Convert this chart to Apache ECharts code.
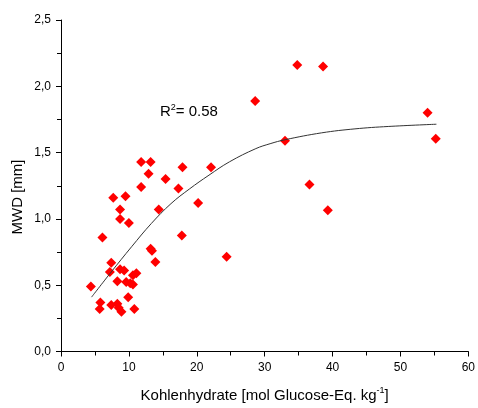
<!DOCTYPE html>
<html>
<head>
<meta charset="utf-8">
<script src="https://cdn.jsdelivr.net/npm/echarts@6/dist/echarts.min.js"></script>
<style>
html,body{margin:0;padding:0;background:#fff;}
#c{width:478px;height:408px;}
</style>
</head>
<body>
<div id="c"></div>
<script>
var carbX = [4.4, 5.8, 5.7, 6.1, 7.4, 7.2, 7.4, 8.3, 8.5, 8.9, 8.3, 8.7, 9.3, 9.6, 10.2, 10.6, 9.9, 10.8, 10.6, 11.1,
             8.7, 8.7, 10.0, 7.7, 9.5, 11.8, 13.2, 12.9, 11.8, 13.2, 13.4, 13.9, 14.4, 15.4, 17.3, 17.9, 17.8,
             20.2, 22.1, 24.4, 28.6, 34.8, 38.6, 33.0, 36.6, 39.3, 54.0, 55.2];
var mwdY  = [0.49, 0.37, 0.32, 0.86, 0.67, 0.60, 0.35, 0.36, 0.33, 0.30, 0.53, 0.62, 0.61, 0.525, 0.515, 0.505, 0.41, 0.32, 0.575, 0.59,
             1.07, 1.00, 0.97, 1.16, 1.17, 1.43, 1.43, 1.34, 1.24, 0.775, 0.76, 0.675, 1.07, 1.30, 1.23, 1.39, 0.875,
             1.12, 1.39, 0.715, 1.89, 2.16, 2.15, 1.59, 1.26, 1.065, 1.80, 1.605];
var fitX = [4.5, 7.4, 10.4, 13.3, 16.2, 18.9, 21.8, 24.8, 28.7, 30.8, 33.0, 38.4, 43.3, 48.2, 55.3];
var fitY = [0.41, 0.60, 0.79, 0.965, 1.115, 1.225, 1.33, 1.43, 1.53, 1.567, 1.597, 1.649, 1.679, 1.697, 1.714];
var xTicks = [0, 10, 20, 30, 40, 50, 60];
var yTicks = ['0,0', '0,5', '1,0', '1,5', '2,0', '2,5'];
var yName = 'MWD [mm]';
var xName = 'Kohlenhydrate [mol Glucose-Eq. kg{s|-1}]';

var FONT = 'Liberation Sans, Arial, sans-serif';
var scatterData = carbX.map(function (x, i) { return [x, mwdY[i]]; });
var fitData = fitX.map(function (x, i) { return [x, fitY[i]]; });

var chart = echarts.init(document.getElementById('c'), null, {renderer: 'canvas'});
chart.setOption({
  animation: false,
  backgroundColor: '#ffffff',
  grid: {left: 61, right: 7, top: 20, bottom: 55, containLabel: false},
  xAxis: {
    type: 'value', min: xTicks[0], max: xTicks[xTicks.length - 1], interval: 10,
    axisLine: {show: true, onZero: false, lineStyle: {color: '#000', width: 1}},
    axisTick: {show: true, inside: false, length: 5, lineStyle: {color: '#000'}},
    minorTick: {show: true, splitNumber: 2, length: 4, lineStyle: {color: '#000'}},
    splitLine: {show: false},
    axisLabel: {color: '#000', fontFamily: FONT, fontSize: 12, margin: 10},
    name: xName,
    nameLocation: 'middle', nameGap: 35,
    nameTextStyle: {color: '#000', fontFamily: FONT, fontSize: 15,
      rich: {s: {fontFamily: FONT, fontSize: 9, verticalAlign: 'top', padding: [0, 0, 9, 0], color: '#000'}}}
  },
  yAxis: {
    type: 'value', min: 0, max: 2.5, interval: 0.5,
    axisLine: {show: true, onZero: false, lineStyle: {color: '#000', width: 1}},
    axisTick: {show: true, inside: false, length: 5, lineStyle: {color: '#000'}},
    minorTick: {show: true, splitNumber: 2, length: 4, lineStyle: {color: '#000'}},
    splitLine: {show: false},
    axisLabel: {color: '#000', fontFamily: FONT, fontSize: 12, margin: 10,
      formatter: function (v) { var i = Math.round(v / 0.5); return yTicks[i] !== undefined ? yTicks[i] : ''; }}
  },
  graphic: [{
    type: 'text', x: 18, y: 197, rotation: Math.PI / 2,
    style: {
      text: yName, fontFamily: FONT, fontSize: 15, fill: '#000',
      align: 'center', verticalAlign: 'middle'
    }
  }, {
    type: 'text', left: 160, top: 103,
    style: {
      text: '{r|R}{s|2}{r|= 0.58}',
      rich: {
        r: {fontFamily: FONT, fontSize: 15, fill: '#000', color: '#000'},
        s: {fontFamily: FONT, fontSize: 9, verticalAlign: 'top', padding: [0, 0, 9, 0], fill: '#000', color: '#000'}
      }
    }
  }],
  series: [{
    type: 'scatter', data: scatterData, symbol: 'diamond', symbolSize: [10, 10],
    itemStyle: {color: '#ff0000', opacity: 1}, z: 3
  }, {
    type: 'line', data: fitData, smooth: 0.4, showSymbol: false, symbol: 'none',
    lineStyle: {color: '#333', width: 1}, z: 4
  }]
});
</script>
</body>
</html>
